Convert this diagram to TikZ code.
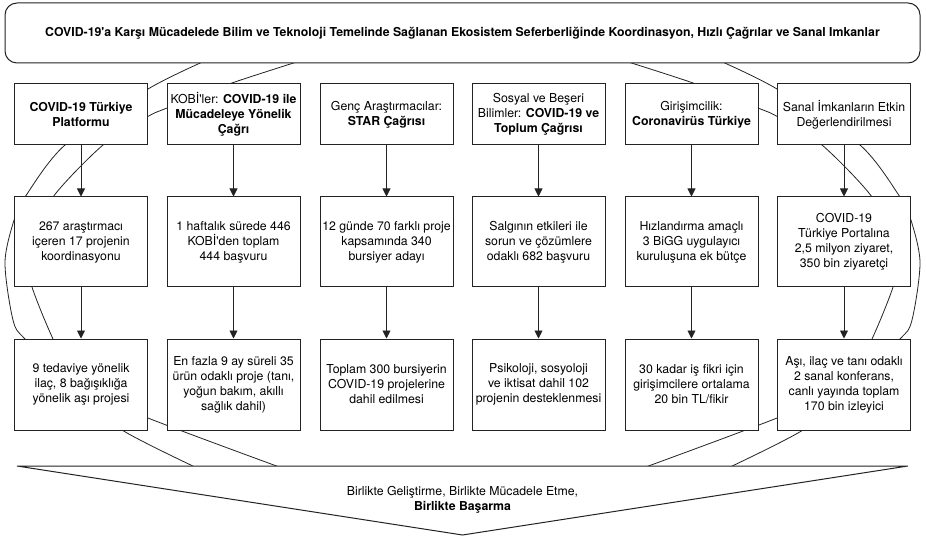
\documentclass[tikz,border=0pt]{standalone}
\usepackage{fontspec}
\newfontfamily\hv{TeX Gyre Heros}
\usetikzlibrary{arrows.meta}
\definecolor{ln}{RGB}{35,35,35}
\begin{document}
\begin{tikzpicture}[x=1pt,y=-1pt,
  box/.style={draw=ln, line width=1pt, fill=white, minimum width=133pt, inner sep=0pt, align=center, font=\hv\fontsize{12.3}{15}\selectfont},
  ra/.style={box, minimum height=61pt},
  rb/.style={box, minimum height=90pt},
  rc/.style={box, minimum height=91pt},
  arr/.style={draw=ln, line width=0.9pt, -{Triangle[length=8pt,width=8pt]}},
  orbit/.style={draw=ln, line width=0.8pt},
  txt/.style={font=\hv\fontsize{12.3}{15}\selectfont, align=center, inner sep=0pt}
]
\useasboundingbox (0,0) rectangle (926,537);
% background orbits
\draw[orbit] plot[smooth] coordinates {(207,60) (148,89) (65,145) (25,197) (15,217) (5,262) (13,320) (25,339) (75,385) (148,418) (282,468)};
\draw[orbit] plot[smooth] coordinates {(303,60) (229,84) (167,108) (147,117) (103,145) (53,197) (34,240) (30,265) (32,287) (53,339) (82,395) (122,430) (197,468)};
\draw[orbit] plot[smooth] coordinates {(718,60) (777,89) (860,145) (900,197) (910,217) (920,262) (912,320) (900,339) (850,385) (777,418) (643,468)};
\draw[orbit] plot[smooth] coordinates {(622,60) (696,84) (758,108) (778,117) (822,145) (872,197) (891,240) (895,265) (893,287) (872,339) (843,395) (803,430) (728,468)};
% banner
\node[box, minimum width=915pt, minimum height=60pt, rounded corners=12pt] (top) at (462.5,33)
  {\bfseries COVID-19'a Karşı Mücadelede Bilim ve Teknoloji Temelinde Sağlanan Ekosistem Seferberliğinde Koordinasyon, Hızlı Çağrılar ve Sanal Imkanlar};
% goal arrow
\draw[draw=ln, line width=1pt, fill=white] (17,466) -- (908,466) -- (462.5,535) -- cycle;
\node[txt] (goal) at (462.5,500) {Birlikte Geliştirme, Birlikte Mücadele Etme,\\\textbf{Birlikte Başarma}};
% row 1
\node[ra] (a1) at (81,114.5) {\textbf{COVID-19 Türkiye}\\\textbf{Platformu}};
\node[ra] (a2) at (233.5,114.5) {KOBİ'ler: \textbf{COVID-19 ile}\\\textbf{Mücadeleye Yönelik}\\\textbf{Çağrı}};
\node[ra] (a3) at (386.5,114.5) {Genç Araştırmacılar:\\\textbf{STAR Çağrısı}};
\node[ra] (a4) at (538.5,114.5) {Sosyal ve Beşeri\\Bilimler: \textbf{COVID-19 ve}\\\textbf{Toplum Çağrısı}};
\node[ra] (a5) at (691.5,114.5) {Girişimcilik:\\\textbf{Coronavirüs Türkiye}};
\node[ra] (a6) at (844,114.5) {Sanal İmkanların Etkin\\Değerlendirilmesi};
% row 2
\node[rb] (b1) at (81,242) {267 araştırmacı\\içeren 17 projenin\\koordinasyonu};
\node[rb] (b2) at (233.5,242) {1 haftalık sürede 446\\KOBİ'den toplam\\444 başvuru};
\node[rb] (b3) at (386.5,242) {12 günde 70 farklı proje\\kapsamında 340\\bursiyer adayı};
\node[rb] (b4) at (538.5,242) {Salgının etkileri ile\\sorun ve çözümlere\\odaklı 682 başvuru};
\node[rb] (b5) at (691.5,242) {Hızlandırma amaçlı\\3 BiGG uygulayıcı\\kuruluşuna ek bütçe};
\node[rb] (b6) at (844,242) {COVID-19\\Türkiye Portalına\\2,5 milyon ziyaret,\\350 bin ziyaretçi};
% row 3
\node[rc] (c1) at (81,384.5) {9 tedaviye yönelik\\ilaç, 8 bağışıklığa\\yönelik aşı projesi};
\node[rc] (c2) at (233.5,384.5) {En fazla 9 ay süreli 35\\ürün odaklı proje (tanı,\\yoğun bakım, akıllı\\sağlık dahil)};
\node[rc] (c3) at (386.5,384.5) {Toplam 300 bursiyerin\\COVID-19 projelerine\\dahil edilmesi};
\node[rc] (c4) at (538.5,384.5) {Psikoloji, sosyoloji\\ve iktisat dahil 102\\projenin desteklenmesi};
\node[rc] (c5) at (691.5,384.5) {30 kadar iş fikri için\\girişimcilere ortalama\\20 bin TL/fikir};
\node[rc] (c6) at (844,384.5) {Aşı, ilaç ve tanı odaklı\\2 sanal konferans,\\canlı yayında toplam\\170 bin izleyici};
% arrows
\foreach \i in {1,...,6} {
  \draw[arr] (a\i) -- (b\i);
  \draw[arr] (b\i) -- (c\i);
}
\end{tikzpicture}
\end{document}
